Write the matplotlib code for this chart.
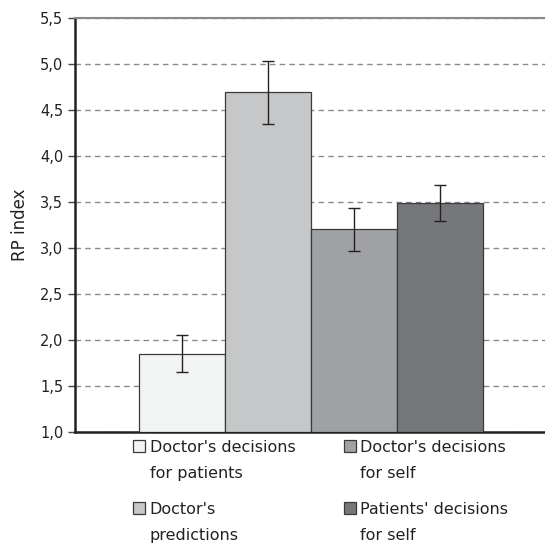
import matplotlib.pyplot as plt
import numpy as np

labels = ["Doctor's decisions\nfor patients", "Doctor's\npredictions",
          "Doctor's decisions\nfor self", "Patients' decisions\nfor self"]
values = [1.85, 4.70, 3.21, 3.49]
err_low = [1.65, 4.35, 2.97, 3.29]
err_high = [2.05, 5.03, 3.44, 3.68]
colors = ["#f2f3f3", "#c6c7c9", "#a0a1a5", "#76777b"]
yticks = [1.0, 1.5, 2.0, 2.5, 3.0, 3.5, 4.0, 4.5, 5.0, 5.5]

fig = plt.figure(figsize=(5.45, 5.44), dpi=100)
ax = fig.add_axes([75/545, 1 - 432/544, 470/545, 414/544])
ax.set_axisbelow(True)

x = np.arange(len(values))
yerr = [np.array(values) - np.array(err_low), np.array(err_high) - np.array(values)]
for i in range(len(values)):
    ax.bar(x[i], values[i] - 1.0, bottom=1.0, width=1.0, color=colors[i],
           edgecolor="#3a3a3a", linewidth=0.9, label=labels[i], zorder=3)
ax.errorbar(x, values, yerr=yerr, fmt="none", ecolor="#222222",
            elinewidth=1.0, capsize=4, capthick=1.0, zorder=4)

ax.set_xlim(-1.245, 4.22)
ax.set_ylim(1.0, 5.5)
ax.set_yticks(yticks)
ax.set_yticklabels([f"{v:.1f}".replace(".", ",") for v in yticks], fontsize=10.5, color="#222222")
ax.set_xticks([])
ax.grid(axis="y", linestyle=(0, (4, 3)), color="#8a8a8a", linewidth=1.0)
ax.spines["right"].set_visible(False)
ax.spines["top"].set_color("#888888")
ax.spines["top"].set_linewidth(1.5)
ax.spines["left"].set_color("#222222")
ax.spines["left"].set_linewidth(1.8)
ax.spines["bottom"].set_color("#222222")
ax.spines["bottom"].set_linewidth(1.8)
ax.tick_params(axis="y", length=5, width=1.0, color="#444444")
ax.set_ylabel("RP index", fontsize=12, color="#222222", labelpad=8)

leg = ax.legend(loc="upper left", bbox_to_anchor=(0.11, -0.005), ncol=2, frameon=False,
                fontsize=11.5, handlelength=0.75, handleheight=0.75, handletextpad=0.3,
                columnspacing=3.0, labelspacing=1.3, borderaxespad=0)
for t in leg.get_texts():
    t.set_linespacing(1.9)
    t.set_color("#222222")
# put the square next to the first line of each label
for col in leg._legend_handle_box.get_children():
    for item in col.get_children():
        item.align = "top"

fig.savefig("out.png", dpi=100)
